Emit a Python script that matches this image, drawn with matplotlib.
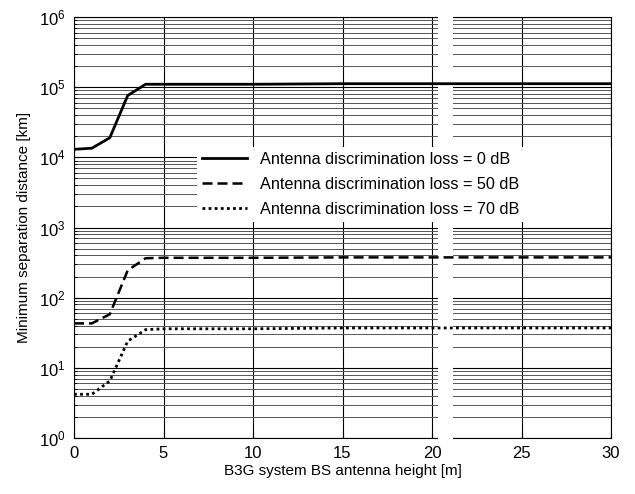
import numpy as np
import matplotlib
matplotlib.use("Agg")
import matplotlib.pyplot as plt
from matplotlib.ticker import LogLocator, NullFormatter

plt.rcParams['font.family'] = ['Liberation Sans', 'DejaVu Sans']

# antenna height [m]
height = [0, 1, 2, 3, 4, 5, 10, 15, 20, 25, 30]
# minimum separation distance [km]
loss_0dB = [1.3e4, 1.35e4, 1.9e4, 7.6e4, 1.1e5, 1.1e5, 1.1e5, 1.12e5, 1.12e5, 1.12e5, 1.12e5]
loss_50dB = [43, 43, 58, 245, 365, 370, 370, 375, 375, 375, 375]
loss_70dB = [4.2, 4.2, 6.5, 24, 35, 36, 36, 37, 37, 37, 37]
labels = ["Antenna discrimination loss = 0 dB",
          "Antenna discrimination loss = 50 dB",
          "Antenna discrimination loss = 70 dB"]

fig = plt.figure(figsize=(6.35, 4.94), dpi=100)
ax = fig.add_axes([74/635, 1-438/494, 537/635, 421/494])

ax.plot(height, loss_0dB, color="black", lw=2.0, ls="-", label=labels[0], zorder=4)
ax.plot(height, loss_50dB, color="black", lw=1.8, ls=(0, (4, 2)), label=labels[1], zorder=4)
ax.plot(height, loss_70dB, color="black", lw=2.0, ls=(0, (1, 1.2)), label=labels[2], zorder=4)

ax.set_yscale("log")
ax.set_xlim(0, 30)
ax.set_ylim(1, 1e6)
ax.set_xticks([0, 5, 10, 15, 20, 25, 30])
ax.yaxis.set_major_locator(LogLocator(base=10, numticks=10))
ax.yaxis.set_minor_locator(LogLocator(base=10, subs=np.arange(2, 10), numticks=20))
ax.yaxis.set_minor_formatter(NullFormatter())

ax.grid(True, which="major", axis="both", color="black", lw=0.8)
ax.grid(True, which="minor", axis="y", color="#555555", lw=0.7)
ax.set_axisbelow(True)

# white scan gap in the original figure
ax.axvspan(20.35, 21.2, ymin=-0.01, ymax=1.01, color="white", zorder=3, lw=0, clip_on=False)

ax.tick_params(direction="in", labelsize=12, length=4, pad=6)
ax.tick_params(which="minor", direction="in", length=2)
for s in ax.spines.values():
    s.set_linewidth(0.8)

ax.set_xlabel("B3G system BS antenna height [m]", fontsize=11, labelpad=2)
ax.set_ylabel("Minimum separation distance [km]", fontsize=11, labelpad=6)

leg = ax.legend(loc="upper left", bbox_to_anchor=(0.229, 0.51, 0.771, 0.182), mode="expand",
                fontsize=11.7, frameon=True, fancybox=False, borderaxespad=0, handlelength=2.8,
                handletextpad=0.8, labelspacing=0.62, borderpad=0.3)
leg.get_frame().set_facecolor("white")
leg.get_frame().set_edgecolor("none")
leg.get_frame().set_alpha(1)
leg.set_zorder(5)

fig.savefig("out.png", dpi=100)
